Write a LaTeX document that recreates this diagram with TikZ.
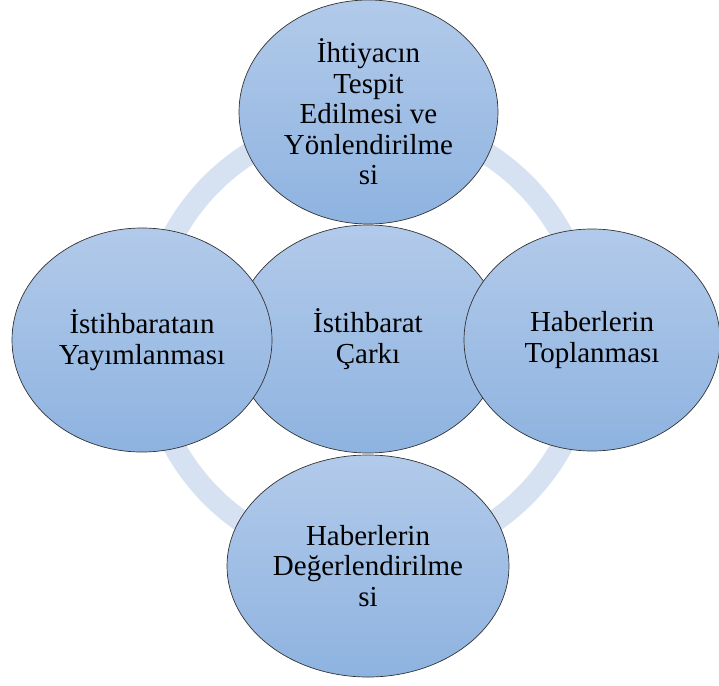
\documentclass[tikz,border=0pt]{standalone}
\usepackage{fontspec}
\setmainfont{Liberation Serif}
\usetikzlibrary{shapes.geometric}
\definecolor{ringblue}{HTML}{D6E1F1}
\definecolor{celltop}{HTML}{B2CAEA}
\definecolor{cellbottom}{HTML}{8EB3E0}
\tikzset{
  cell/.style={ellipse, draw=black!80, line width=0.7pt,
    top color=celltop, bottom color=cellbottom,
    inner sep=0pt, align=center,
    font=\fontsize{29}{30.5}\selectfont},
}
\begin{document}
\begin{tikzpicture}[x=1pt,y=-1pt]
  \useasboundingbox (0,0) rectangle (719,685);

  % Drawing ring behind the cells
  \coordinate (hub) at (368,340);
  \draw [ringblue, line width=22pt] (hub) circle (221pt);

  % Marking cell Çarkı (middle)
  \node [cell, minimum width=268pt, minimum height=228pt] (wheel) at (368,339)
    {İstihbarat\\Çarkı};

  % Marking cell top
  \node [cell, minimum width=259pt, minimum height=224pt] (need) at (368.5,112)
    {İhtiyacın\\Tespit\\Edilmesi ve\\Yönlendirilme\\si};

  % Marking cell right
  \node [cell, minimum width=256pt, minimum height=222pt] (collect) at (592,340)
    {Haberlerin\\Toplanması};

  % Marking cell bottom
  \node [cell, minimum width=282pt, minimum height=222pt] (assess) at (368,566)
    {Haberlerin\\Değerlendirilme\\si};

  % Marking cell left
  \node [cell, minimum width=260pt, minimum height=224pt] (spread) at (142,340)
    {İstihbarataın\\Yayımlanması};
\end{tikzpicture}
\end{document}
